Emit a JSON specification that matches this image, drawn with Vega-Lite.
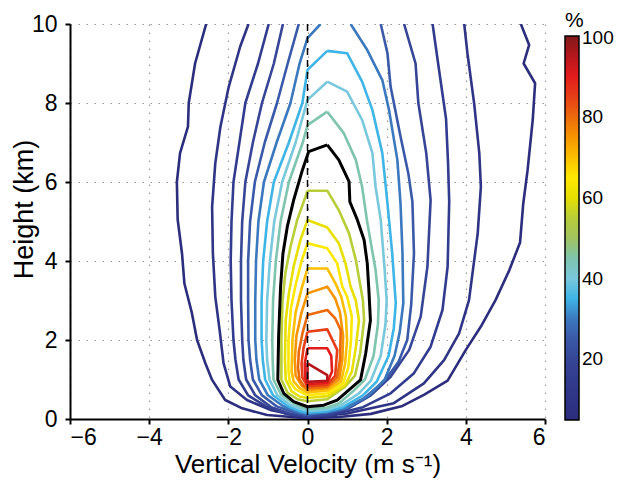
{
"$schema":"https://vega.github.io/schema/vega-lite/v6.json",
"width":475,"height":395,
"autosize":{"type":"none"},
"padding":{"left":70,"top":24,"right":72,"bottom":63},
"config":{"font":"Liberation Sans","view":{"stroke":null},
 "axis":{"domainColor":"black","domainWidth":2,"tickColor":"black","tickWidth":2,"tickSize":5,"labelFontSize":23,"labelColor":"black","titleFontSize":26,"titleFontWeight":"normal","titleColor":"black","grid":true,"gridColor":"#9a9a9a","gridDash":[1.5,6.5],"gridWidth":1.2}},
"datasets":{"contours":[
{"c":5,"i":0,"w":-2.56,"h":10},{"c":5,"i":1,"w":-2.84,"h":9},{"c":5,"i":2,"w":-3.0,"h":8},{"c":5,"i":3,"w":-3.02,"h":7.4},{"c":5,"i":4,"w":-3.22,"h":6.73},{"c":5,"i":5,"w":-3.3,"h":6},{"c":5,"i":6,"w":-3.28,"h":5.05},{"c":5,"i":7,"w":-3.17,"h":4.19},{"c":5,"i":8,"w":-3.11,"h":3.43},{"c":5,"i":9,"w":-2.92,"h":2.68},{"c":5,"i":10,"w":-2.79,"h":2},{"c":5,"i":11,"w":-2.58,"h":1.41},{"c":5,"i":12,"w":-2.41,"h":0.99},{"c":5,"i":13,"w":-2.08,"h":0.48},{"c":5,"i":14,"w":-1.65,"h":0.27},{"c":5,"i":15,"w":-1.02,"h":0.1},{"c":5,"i":16,"w":0,"h":0.02},{"c":5,"i":17,"w":0.8,"h":0.05},{"c":5,"i":18,"w":1.6,"h":0.13},{"c":5,"i":19,"w":2.4,"h":0.33},{"c":5,"i":20,"w":2.94,"h":0.61},{"c":5,"i":21,"w":3.54,"h":0.97},{"c":5,"i":22,"w":4.0,"h":1.75},{"c":5,"i":23,"w":4.38,"h":2.34},{"c":5,"i":24,"w":4.75,"h":3.01},{"c":5,"i":25,"w":5.1,"h":3.77},{"c":5,"i":26,"w":5.37,"h":4.47},{"c":5,"i":27,"w":5.45,"h":5.45},{"c":5,"i":28,"w":5.56,"h":6.3},{"c":5,"i":29,"w":5.69,"h":7.57},{"c":5,"i":30,"w":5.75,"h":8.5},{"c":5,"i":31,"w":5.46,"h":9},{"c":5,"i":32,"w":5.6,"h":9.47},{"c":5,"i":33,"w":5.39,"h":10},
{"c":10,"i":0,"w":-1.49,"h":10},{"c":10,"i":1,"w":-1.7,"h":9.43},{"c":10,"i":2,"w":-1.99,"h":8.41},{"c":10,"i":3,"w":-2.2,"h":7.4},{"c":10,"i":4,"w":-2.33,"h":6.47},{"c":10,"i":5,"w":-2.41,"h":5.37},{"c":10,"i":6,"w":-2.39,"h":4.19},{"c":10,"i":7,"w":-2.33,"h":3.1},{"c":10,"i":8,"w":-2.22,"h":2.25},{"c":10,"i":9,"w":-2.12,"h":1.41},{"c":10,"i":10,"w":-1.95,"h":0.82},{"c":10,"i":11,"w":-1.53,"h":0.48},{"c":10,"i":12,"w":-0.94,"h":0.23},{"c":10,"i":13,"w":0,"h":0.03},{"c":10,"i":14,"w":1.0,"h":0.14},{"c":10,"i":15,"w":2.18,"h":0.4},{"c":10,"i":16,"w":2.94,"h":0.9},{"c":10,"i":17,"w":3.45,"h":1.49},{"c":10,"i":18,"w":3.83,"h":2.17},{"c":10,"i":19,"w":4.08,"h":3.01},{"c":10,"i":20,"w":4.3,"h":4.7},{"c":10,"i":21,"w":4.38,"h":5.88},{"c":10,"i":22,"w":4.34,"h":6.73},{"c":10,"i":23,"w":4.21,"h":7.99},{"c":10,"i":24,"w":4.04,"h":9.26},{"c":10,"i":25,"w":3.96,"h":10},
{"c":15,"i":0,"w":-0.98,"h":10},{"c":15,"i":1,"w":-1.25,"h":9},{"c":15,"i":2,"w":-1.57,"h":8},{"c":15,"i":3,"w":-1.72,"h":7},{"c":15,"i":4,"w":-1.87,"h":6},{"c":15,"i":5,"w":-1.92,"h":5},{"c":15,"i":6,"w":-1.94,"h":4},{"c":15,"i":7,"w":-1.92,"h":3},{"c":15,"i":8,"w":-1.87,"h":2},{"c":15,"i":9,"w":-1.82,"h":1.5},{"c":15,"i":10,"w":-1.74,"h":1.0},{"c":15,"i":11,"w":-1.5,"h":0.6},{"c":15,"i":12,"w":-1.05,"h":0.32},{"c":15,"i":13,"w":-0.55,"h":0.13},{"c":15,"i":14,"w":0,"h":0.05},{"c":15,"i":15,"w":0.6,"h":0.1},{"c":15,"i":16,"w":1.4,"h":0.3},{"c":15,"i":17,"w":2.1,"h":0.65},{"c":15,"i":18,"w":2.69,"h":1.16},{"c":15,"i":19,"w":3.11,"h":1.83},{"c":15,"i":20,"w":3.41,"h":2.76},{"c":15,"i":21,"w":3.54,"h":3.86},{"c":15,"i":22,"w":3.58,"h":5.5},{"c":15,"i":23,"w":3.55,"h":6.5},{"c":15,"i":24,"w":3.5,"h":7.6},{"c":15,"i":25,"w":3.3,"h":9},{"c":15,"i":26,"w":3.16,"h":10},
{"c":20,"i":0,"w":-0.62,"h":10},{"c":20,"i":1,"w":-0.85,"h":9},{"c":20,"i":2,"w":-1.15,"h":8},{"c":20,"i":3,"w":-1.38,"h":7},{"c":20,"i":4,"w":-1.57,"h":6},{"c":20,"i":5,"w":-1.65,"h":5},{"c":20,"i":6,"w":-1.68,"h":4},{"c":20,"i":7,"w":-1.68,"h":3},{"c":20,"i":8,"w":-1.65,"h":2},{"c":20,"i":9,"w":-1.62,"h":1.5},{"c":20,"i":10,"w":-1.55,"h":1.0},{"c":20,"i":11,"w":-1.32,"h":0.6},{"c":20,"i":12,"w":-0.92,"h":0.3},{"c":20,"i":13,"w":-0.45,"h":0.14},{"c":20,"i":14,"w":0,"h":0.08},{"c":20,"i":15,"w":0.5,"h":0.12},{"c":20,"i":16,"w":1.0,"h":0.25},{"c":20,"i":17,"w":1.6,"h":0.6},{"c":20,"i":18,"w":2.1,"h":1.07},{"c":20,"i":19,"w":2.57,"h":1.75},{"c":20,"i":20,"w":2.86,"h":2.59},{"c":20,"i":21,"w":3.03,"h":3.86},{"c":20,"i":22,"w":3.11,"h":5.54},{"c":20,"i":23,"w":3.0,"h":6.73},{"c":20,"i":24,"w":2.8,"h":8},{"c":20,"i":25,"w":2.73,"h":9},{"c":20,"i":26,"w":2.44,"h":10},
{"c":25,"i":0,"w":-0.22,"h":10},{"c":25,"i":1,"w":-0.5,"h":9},{"c":25,"i":2,"w":-0.77,"h":8},{"c":25,"i":3,"w":-1.08,"h":7},{"c":25,"i":4,"w":-1.33,"h":6},{"c":25,"i":5,"w":-1.45,"h":5},{"c":25,"i":6,"w":-1.5,"h":4},{"c":25,"i":7,"w":-1.5,"h":3},{"c":25,"i":8,"w":-1.49,"h":2},{"c":25,"i":9,"w":-1.45,"h":1.5},{"c":25,"i":10,"w":-1.38,"h":1.0},{"c":25,"i":11,"w":-1.15,"h":0.6},{"c":25,"i":12,"w":-0.78,"h":0.32},{"c":25,"i":13,"w":-0.35,"h":0.17},{"c":25,"i":14,"w":0,"h":0.1},{"c":25,"i":15,"w":0.8,"h":0.22},{"c":25,"i":16,"w":1.4,"h":0.5},{"c":25,"i":17,"w":1.95,"h":0.97},{"c":25,"i":18,"w":2.3,"h":1.45},{"c":25,"i":19,"w":2.52,"h":2.0},{"c":25,"i":20,"w":2.62,"h":2.9},{"c":25,"i":21,"w":2.69,"h":4.19},{"c":25,"i":22,"w":2.65,"h":5.5},{"c":25,"i":23,"w":2.55,"h":6.2},{"c":25,"i":24,"w":2.35,"h":7.15},{"c":25,"i":25,"w":2.1,"h":8.41},{"c":25,"i":26,"w":2.02,"h":9.26},{"c":25,"i":27,"w":1.85,"h":10},
{"c":30,"i":0,"w":0.33,"h":10},{"c":30,"i":1,"w":0,"h":9.64},{"c":30,"i":2,"w":-0.2,"h":9},{"c":30,"i":3,"w":-0.43,"h":8},{"c":30,"i":4,"w":-0.78,"h":7},{"c":30,"i":5,"w":-1.1,"h":6},{"c":30,"i":6,"w":-1.24,"h":5},{"c":30,"i":7,"w":-1.3,"h":4},{"c":30,"i":8,"w":-1.32,"h":3},{"c":30,"i":9,"w":-1.32,"h":2},{"c":30,"i":10,"w":-1.29,"h":1.5},{"c":30,"i":11,"w":-1.22,"h":1.0},{"c":30,"i":12,"w":-1.0,"h":0.6},{"c":30,"i":13,"w":-0.62,"h":0.33},{"c":30,"i":14,"w":-0.25,"h":0.18},{"c":30,"i":15,"w":0,"h":0.13},{"c":30,"i":16,"w":0.5,"h":0.17},{"c":30,"i":17,"w":1.0,"h":0.28},{"c":30,"i":18,"w":1.55,"h":0.6},{"c":30,"i":19,"w":1.95,"h":1.0},{"c":30,"i":20,"w":2.2,"h":1.6},{"c":30,"i":21,"w":2.33,"h":2.2},{"c":30,"i":22,"w":2.42,"h":2.93},{"c":30,"i":23,"w":2.4,"h":4.19},{"c":30,"i":24,"w":2.35,"h":5.46},{"c":30,"i":25,"w":2.27,"h":6.56},{"c":30,"i":26,"w":2.06,"h":7.82},{"c":30,"i":27,"w":1.89,"h":8.58},{"c":30,"i":28,"w":1.51,"h":9.34},{"c":30,"i":29,"w":1.09,"h":10},
{"c":35,"i":0,"w":0.5,"h":9.32},{"c":35,"i":1,"w":0,"h":8.84},{"c":35,"i":2,"w":-0.13,"h":8},{"c":35,"i":3,"w":-0.47,"h":7},{"c":35,"i":4,"w":-0.85,"h":6},{"c":35,"i":5,"w":-1.02,"h":5},{"c":35,"i":6,"w":-1.12,"h":4},{"c":35,"i":7,"w":-1.16,"h":3},{"c":35,"i":8,"w":-1.16,"h":2},{"c":35,"i":9,"w":-1.13,"h":1.5},{"c":35,"i":10,"w":-1.07,"h":1.0},{"c":35,"i":11,"w":-0.87,"h":0.6},{"c":35,"i":12,"w":-0.5,"h":0.33},{"c":35,"i":13,"w":-0.2,"h":0.2},{"c":35,"i":14,"w":0,"h":0.16},{"c":35,"i":15,"w":0.5,"h":0.2},{"c":35,"i":16,"w":0.9,"h":0.3},{"c":35,"i":17,"w":1.4,"h":0.6},{"c":35,"i":18,"w":1.75,"h":0.95},{"c":35,"i":19,"w":2.05,"h":1.6},{"c":35,"i":20,"w":2.18,"h":2.3},{"c":35,"i":21,"w":2.23,"h":2.93},{"c":35,"i":22,"w":2.14,"h":4.19},{"c":35,"i":23,"w":2.02,"h":5.46},{"c":35,"i":24,"w":1.89,"h":6.73},{"c":35,"i":25,"w":1.64,"h":7.82},{"c":35,"i":26,"w":1.38,"h":8.54},{"c":35,"i":27,"w":1.0,"h":9.26},{"c":35,"i":28,"w":0.5,"h":9.32},
{"c":40,"i":0,"w":0.5,"h":8.54},{"c":40,"i":1,"w":0,"h":8.08},{"c":40,"i":2,"w":-0.3,"h":7},{"c":40,"i":3,"w":-0.64,"h":6},{"c":40,"i":4,"w":-0.84,"h":5},{"c":40,"i":5,"w":-0.95,"h":4},{"c":40,"i":6,"w":-1.02,"h":3},{"c":40,"i":7,"w":-1.04,"h":2},{"c":40,"i":8,"w":-1.02,"h":1.5},{"c":40,"i":9,"w":-0.96,"h":1.0},{"c":40,"i":10,"w":-0.76,"h":0.6},{"c":40,"i":11,"w":-0.42,"h":0.35},{"c":40,"i":12,"w":0,"h":0.2},{"c":40,"i":13,"w":0.5,"h":0.24},{"c":40,"i":14,"w":0.85,"h":0.35},{"c":40,"i":15,"w":1.3,"h":0.65},{"c":40,"i":16,"w":1.6,"h":0.97},{"c":40,"i":17,"w":1.85,"h":1.6},{"c":40,"i":18,"w":1.97,"h":2.4},{"c":40,"i":19,"w":2.0,"h":3.0},{"c":40,"i":20,"w":1.95,"h":3.77},{"c":40,"i":21,"w":1.85,"h":5.04},{"c":40,"i":22,"w":1.72,"h":5.88},{"c":40,"i":23,"w":1.64,"h":6.73},{"c":40,"i":24,"w":1.38,"h":7.57},{"c":40,"i":25,"w":1.0,"h":8.29},{"c":40,"i":26,"w":0.5,"h":8.54},
{"c":45,"i":0,"w":0.5,"h":7.78},{"c":45,"i":1,"w":0,"h":7.44},{"c":45,"i":2,"w":-0.12,"h":7},{"c":45,"i":3,"w":-0.47,"h":6},{"c":45,"i":4,"w":-0.68,"h":5},{"c":45,"i":5,"w":-0.8,"h":4},{"c":45,"i":6,"w":-0.87,"h":3},{"c":45,"i":7,"w":-0.89,"h":2},{"c":45,"i":8,"w":-0.88,"h":1.5},{"c":45,"i":9,"w":-0.86,"h":1.0},{"c":45,"i":10,"w":-0.67,"h":0.62},{"c":45,"i":11,"w":-0.36,"h":0.4},{"c":45,"i":12,"w":0,"h":0.25},{"c":45,"i":13,"w":0.5,"h":0.29},{"c":45,"i":14,"w":0.8,"h":0.4},{"c":45,"i":15,"w":1.15,"h":0.7},{"c":45,"i":16,"w":1.45,"h":1.0},{"c":45,"i":17,"w":1.67,"h":1.6},{"c":45,"i":18,"w":1.78,"h":2.4},{"c":45,"i":19,"w":1.8,"h":3.0},{"c":45,"i":20,"w":1.72,"h":3.77},{"c":45,"i":21,"w":1.5,"h":5.04},{"c":45,"i":22,"w":1.38,"h":5.88},{"c":45,"i":23,"w":1.22,"h":6.56},{"c":45,"i":24,"w":0.92,"h":7.23},{"c":45,"i":25,"w":0.5,"h":7.78},
{"c":50,"i":0,"w":0.5,"h":6.94},{"c":50,"i":1,"w":0.03,"h":6.77},{"c":50,"i":2,"w":-0.13,"h":6.3},{"c":50,"i":3,"w":-0.35,"h":5.54},{"c":50,"i":4,"w":-0.51,"h":4.87},{"c":50,"i":5,"w":-0.62,"h":4.19},{"c":50,"i":6,"w":-0.68,"h":3.35},{"c":50,"i":7,"w":-0.73,"h":2.08},{"c":50,"i":8,"w":-0.75,"h":0.99},{"c":50,"i":9,"w":-0.6,"h":0.65},{"c":50,"i":10,"w":-0.35,"h":0.44},{"c":50,"i":11,"w":0,"h":0.31},{"c":50,"i":12,"w":0.41,"h":0.35},{"c":50,"i":13,"w":0.75,"h":0.48},{"c":50,"i":14,"w":1.34,"h":0.99},{"c":50,"i":15,"w":1.47,"h":1.66},{"c":50,"i":16,"w":1.59,"h":2.5},{"c":50,"i":17,"w":1.55,"h":3.27},{"c":50,"i":18,"w":1.51,"h":3.94},{"c":50,"i":19,"w":1.43,"h":4.53},{"c":50,"i":20,"w":1.26,"h":5.04},{"c":50,"i":21,"w":1.07,"h":5.5},{"c":50,"i":22,"w":1.05,"h":6.01},{"c":50,"i":23,"w":0.79,"h":6.56},{"c":50,"i":24,"w":0.5,"h":6.94},
{"c":55,"i":0,"w":0,"h":5.78},{"c":55,"i":1,"w":-0.05,"h":5.63},{"c":55,"i":2,"w":-0.26,"h":5.04},{"c":55,"i":3,"w":-0.43,"h":4.36},{"c":55,"i":4,"w":-0.56,"h":3.69},{"c":55,"i":5,"w":-0.63,"h":3.0},{"c":55,"i":6,"w":-0.66,"h":2.0},{"c":55,"i":7,"w":-0.66,"h":1.0},{"c":55,"i":8,"w":-0.5,"h":0.66},{"c":55,"i":9,"w":-0.25,"h":0.5},{"c":55,"i":10,"w":0,"h":0.45},{"c":55,"i":11,"w":0.5,"h":0.5},{"c":55,"i":12,"w":0.95,"h":0.82},{"c":55,"i":13,"w":1.2,"h":1.1},{"c":55,"i":14,"w":1.33,"h":1.66},{"c":55,"i":15,"w":1.43,"h":2.5},{"c":55,"i":16,"w":1.4,"h":3.0},{"c":55,"i":17,"w":1.34,"h":3.35},{"c":55,"i":18,"w":1.22,"h":4.03},{"c":55,"i":19,"w":1.05,"h":4.7},{"c":55,"i":20,"w":0.79,"h":5.29},{"c":55,"i":21,"w":0.5,"h":5.78},{"c":55,"i":22,"w":0,"h":5.78},
{"c":60,"i":0,"w":0,"h":5.04},{"c":60,"i":1,"w":-0.18,"h":4.53},{"c":60,"i":2,"w":-0.35,"h":3.86},{"c":60,"i":3,"w":-0.47,"h":3.18},{"c":60,"i":4,"w":-0.55,"h":2.5},{"c":60,"i":5,"w":-0.57,"h":1.5},{"c":60,"i":6,"w":-0.55,"h":1.0},{"c":60,"i":7,"w":-0.4,"h":0.7},{"c":60,"i":8,"w":-0.2,"h":0.57},{"c":60,"i":9,"w":0,"h":0.53},{"c":60,"i":10,"w":0.5,"h":0.58},{"c":60,"i":11,"w":0.95,"h":0.85},{"c":60,"i":12,"w":1.12,"h":1.2},{"c":60,"i":13,"w":1.22,"h":1.8},{"c":60,"i":14,"w":1.3,"h":2.5},{"c":60,"i":15,"w":1.22,"h":3.0},{"c":60,"i":16,"w":1.09,"h":3.35},{"c":60,"i":17,"w":0.96,"h":3.94},{"c":60,"i":18,"w":0.79,"h":4.45},{"c":60,"i":19,"w":0.5,"h":4.85},{"c":60,"i":20,"w":0,"h":5.04},
{"c":65,"i":0,"w":0,"h":4.45},{"c":65,"i":1,"w":-0.15,"h":4.0},{"c":65,"i":2,"w":-0.3,"h":3.4},{"c":65,"i":3,"w":-0.42,"h":2.8},{"c":65,"i":4,"w":-0.48,"h":2.0},{"c":65,"i":5,"w":-0.48,"h":1.2},{"c":65,"i":6,"w":-0.45,"h":0.95},{"c":65,"i":7,"w":-0.3,"h":0.75},{"c":65,"i":8,"w":0,"h":0.6},{"c":65,"i":9,"w":0.5,"h":0.65},{"c":65,"i":10,"w":0.9,"h":0.9},{"c":65,"i":11,"w":1.03,"h":1.3},{"c":65,"i":12,"w":1.1,"h":2.0},{"c":65,"i":13,"w":1.12,"h":2.6},{"c":65,"i":14,"w":1.0,"h":3.1},{"c":65,"i":15,"w":0.88,"h":3.35},{"c":65,"i":16,"w":0.75,"h":3.94},{"c":65,"i":17,"w":0.5,"h":4.32},{"c":65,"i":18,"w":0,"h":4.45},
{"c":70,"i":0,"w":0,"h":3.81},{"c":70,"i":1,"w":-0.15,"h":3.3},{"c":70,"i":2,"w":-0.3,"h":2.7},{"c":70,"i":3,"w":-0.38,"h":2.0},{"c":70,"i":4,"w":-0.4,"h":1.2},{"c":70,"i":5,"w":-0.35,"h":0.95},{"c":70,"i":6,"w":-0.2,"h":0.78},{"c":70,"i":7,"w":0,"h":0.67},{"c":70,"i":8,"w":0.5,"h":0.72},{"c":70,"i":9,"w":0.85,"h":0.95},{"c":70,"i":10,"w":0.95,"h":1.4},{"c":70,"i":11,"w":1.0,"h":2.0},{"c":70,"i":12,"w":0.97,"h":2.6},{"c":70,"i":13,"w":0.85,"h":3.1},{"c":70,"i":14,"w":0.71,"h":3.43},{"c":70,"i":15,"w":0.5,"h":3.81},{"c":70,"i":16,"w":0,"h":3.81},
{"c":75,"i":0,"w":0,"h":3.18},{"c":75,"i":1,"w":-0.15,"h":2.7},{"c":75,"i":2,"w":-0.28,"h":2.1},{"c":75,"i":3,"w":-0.32,"h":1.5},{"c":75,"i":4,"w":-0.3,"h":1.1},{"c":75,"i":5,"w":-0.15,"h":0.85},{"c":75,"i":6,"w":0,"h":0.73},{"c":75,"i":7,"w":0.5,"h":0.78},{"c":75,"i":8,"w":0.8,"h":1.0},{"c":75,"i":9,"w":0.88,"h":1.5},{"c":75,"i":10,"w":0.9,"h":2.1},{"c":75,"i":11,"w":0.82,"h":2.7},{"c":75,"i":12,"w":0.7,"h":3.05},{"c":75,"i":13,"w":0.5,"h":3.35},{"c":75,"i":14,"w":0,"h":3.18},
{"c":80,"i":0,"w":0,"h":2.63},{"c":80,"i":1,"w":-0.12,"h":2.2},{"c":80,"i":2,"w":-0.22,"h":1.7},{"c":80,"i":3,"w":-0.24,"h":1.3},{"c":80,"i":4,"w":-0.2,"h":1.0},{"c":80,"i":5,"w":-0.1,"h":0.85},{"c":80,"i":6,"w":0,"h":0.78},{"c":80,"i":7,"w":0.5,"h":0.82},{"c":80,"i":8,"w":0.75,"h":1.05},{"c":80,"i":9,"w":0.82,"h":1.5},{"c":80,"i":10,"w":0.84,"h":2.25},{"c":80,"i":11,"w":0.7,"h":2.55},{"c":80,"i":12,"w":0.5,"h":2.76},{"c":80,"i":13,"w":0,"h":2.63},
{"c":85,"i":0,"w":0,"h":2.21},{"c":85,"i":1,"w":-0.1,"h":1.8},{"c":85,"i":2,"w":-0.15,"h":1.4},{"c":85,"i":3,"w":-0.13,"h":1.05},{"c":85,"i":4,"w":0,"h":0.83},{"c":85,"i":5,"w":0.5,"h":0.87},{"c":85,"i":6,"w":0.7,"h":1.1},{"c":85,"i":7,"w":0.75,"h":1.75},{"c":85,"i":8,"w":0.5,"h":2.27},{"c":85,"i":9,"w":0,"h":2.21},
{"c":90,"i":0,"w":0,"h":1.79},{"c":90,"i":1,"w":-0.07,"h":1.4},{"c":90,"i":2,"w":-0.06,"h":1.05},{"c":90,"i":3,"w":0,"h":0.88},{"c":90,"i":4,"w":0.5,"h":0.92},{"c":90,"i":5,"w":0.62,"h":1.2},{"c":90,"i":6,"w":0.6,"h":1.6},{"c":90,"i":7,"w":0.5,"h":1.79},{"c":90,"i":8,"w":0,"h":1.79},
{"c":95,"i":0,"w":0,"h":1.41},{"c":95,"i":1,"w":0.5,"h":1.11},{"c":95,"i":2,"w":0.5,"h":0.97},{"c":95,"i":3,"w":0,"h":0.94},{"c":95,"i":4,"w":0,"h":1.41}
]},
"layer":[
{"data":{"name":"contours"},"transform":[{"filter":"datum.c != 50"}],
 "mark":{"type":"line","strokeWidth":2.6,"strokeJoin":"round","clip":true},
 "encoding":{
  "x":{"field":"w","type":"quantitative","scale":{"domain":[-6,6]},"axis":{"values":[-6,-4,-2,0,2,4,6],"title":"Vertical Velocity (m s⁻¹)","labelPadding":2,"titlePadding":2}},
  "y":{"field":"h","type":"quantitative","scale":{"domain":[0,10]},"axis":{"values":[0,2,4,6,8,10],"title":"Height (km)","titleFontSize":27,"labelPadding":8,"titleX":-32,"titleY":185,"titleBaseline":"bottom","titleAngle":-90}},
  "color":{"field":"c","type":"quantitative","scale":{"domain":[5,100],"range":["#2c2d7d","#2f3485","#323c8e","#364596","#3a59a8","#3b78bd","#3fb4e6","#79c8dc","#7ec4ae","#a2c45e","#b8cd38","#e6df00","#ffe800","#fcbf00","#f69500","#ed6a0c","#e63e18","#e31b1b","#b5161c","#7f1a1a"]},
   "legend":{"orient":"none","legendX":495,"legendY":-14,"title":"%","titleFontSize":21,"titleFontWeight":"normal","titleColor":"black","titlePadding":5,"labelFontSize":19,"labelColor":"black","gradientLength":384,"gradientThickness":14,"gradientStrokeColor":"black","gradientStrokeWidth":1.5,"values":[20,40,60,80,99.6],"labelExpr":"datum.value > 99 ? '100' : datum.label","labelOffset":3,"direction":"vertical"}},
  "detail":{"field":"c"},
  "order":{"field":"i"}}},
{"data":{"name":"contours"},"transform":[{"filter":"datum.c == 50"}],
 "mark":{"type":"line","color":"black","strokeWidth":3,"strokeJoin":"round"},
 "encoding":{"x":{"field":"w","type":"quantitative"},"y":{"field":"h","type":"quantitative"},"order":{"field":"i"}}},
{"data":{"values":[{"w":0}]},
 "mark":{"type":"rule","color":"black","strokeDash":[7,5],"strokeWidth":1.5},
 "encoding":{"x":{"field":"w","type":"quantitative"}}}
]
}
